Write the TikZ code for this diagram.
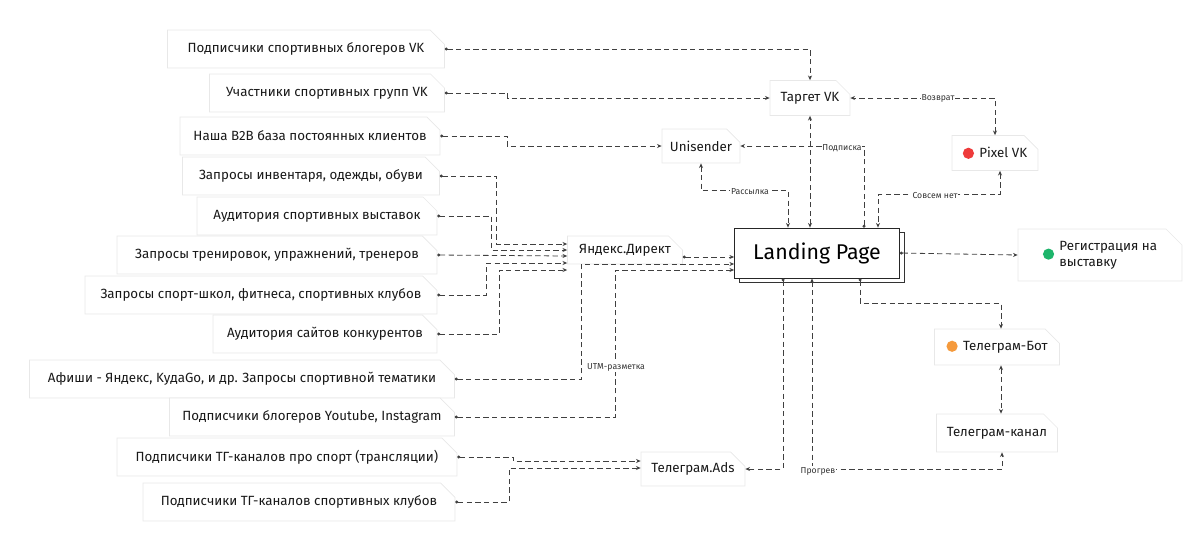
\documentclass[tikz,border=0pt]{standalone}
\usepackage{fontspec}
\setmainfont{Fira Sans}
\usetikzlibrary{shapes.misc,arrows.meta,calc}
\definecolor{cred}{HTML}{EE3B3B}
\definecolor{cgreen}{HTML}{1DB56B}
\definecolor{corange}{HTML}{F59A3C}
\newcommand{\mydot}[1]{\tikz[baseline=-0.6ex]\fill[#1] (0,0) circle (4.2pt);\hspace{4pt}}
\begin{document}
\begin{tikzpicture}[x=0.75pt,y=-0.75pt,
  nt/.style={chamfered rectangle, chamfered rectangle corners=north east,
    chamfered rectangle xsep=6pt, chamfered rectangle ysep=6pt, draw=black!9, fill=white, line width=0.5pt,
    inner sep=0pt, font=\fontsize{10}{12}\selectfont, text=black!90},
  con/.style={draw=black!75, line width=0.6pt, dash pattern=on 4pt off 2.5pt,
    {Circle[length=2.2pt]}-{Stealth[length=3.5pt,width=3pt]}},
  bi/.style={con, {Stealth[length=3.5pt,width=3pt]}-{Stealth[length=3.5pt,width=3pt]}},
  lbl/.style={fill=white, inner sep=0.5pt, font=\fontsize{6.5}{8}\selectfont, text=black!80}]
\useasboundingbox (0,0) rectangle (1200,558);
% left nodes
\node[nt, minimum width=277*0.75pt, minimum height=38*0.75pt] (L1) at (306,49) {Подписчики спортивных блогеров VK};
\node[nt, minimum width=235*0.75pt, minimum height=38*0.75pt] (L2) at (327,93) {Участники спортивных групп VK};
\node[nt, minimum width=260*0.75pt, minimum height=38*0.75pt] (L3) at (310,136) {Наша B2B база постоянных клиентов};
\node[nt, minimum width=257*0.75pt, minimum height=38*0.75pt] (L4) at (311,176) {Запросы инвентаря, одежды, обуви};
\node[nt, minimum width=240*0.75pt, minimum height=38*0.75pt] (L5) at (317,216) {Аудитория спортивных выставок};
\node[nt, minimum width=320*0.75pt, minimum height=38*0.75pt] (L6) at (277,255) {Запросы тренировок, упражнений, тренеров};
\node[nt, minimum width=352*0.75pt, minimum height=38*0.75pt] (L7) at (261,295) {Запросы спорт-школ, фитнеса, спортивных клубов};
\node[nt, minimum width=224*0.75pt, minimum height=38*0.75pt] (L8) at (325,334) {Аудитория сайтов конкурентов};
\node[nt, minimum width=425*0.75pt, minimum height=38*0.75pt] (L9) at (242,379) {Афиши - Яндекс, KудаGo, и др. Запросы спортивной тематики};
\node[nt, minimum width=285*0.75pt, minimum height=38*0.75pt] (L10) at (312,417) {Подписчики блогеров Youtube, Instagram};
\node[nt, minimum width=340*0.75pt, minimum height=38*0.75pt] (L11) at (287,457) {Подписчики ТГ-каналов про спорт (трансляции)};
\node[nt, minimum width=312*0.75pt, minimum height=38*0.75pt] (L12) at (299,502) {Подписчики ТГ-каналов спортивных клубов};
% middle
\node[nt, minimum width=80*0.75pt, minimum height=35*0.75pt] (Tg) at (810,98) {Таргет VK};
\node[nt, minimum width=78*0.75pt, minimum height=34*0.75pt] (Un) at (701,146) {Unisender};
\node[nt, minimum width=115*0.75pt, minimum height=28*0.75pt] (Yd) at (625,250) {Яндекс.Директ};
\node[nt, minimum width=104*0.75pt, minimum height=34*0.75pt] (Ad) at (693,469) {Телеграм.Ads};
\draw[black!80, line width=0.6pt, fill=white] (739,232) rectangle (904,282);
\node[draw=black!85, line width=0.6pt, fill=white, minimum width=165*0.75pt, minimum height=50*0.75pt,
  font=\fontsize{16}{18}\selectfont] (Lp) at (817,253) {Landing Page};
% right
\node[nt, minimum width=86*0.75pt, minimum height=35*0.75pt] (Px) at (995,153) {\mydot{cred}Pixel VK};
\node[nt, minimum width=164*0.75pt, minimum height=52*0.75pt, align=left] (Rg) at (1100,255) {\mydot{cgreen}\begin{tabular}{@{}l@{}}Регистрация на\\выставку\end{tabular}};
\node[nt, minimum width=125*0.75pt, minimum height=36*0.75pt] (Bt) at (997,347) {\mydot{corange}Телеграм-Бот};
\node[nt, minimum width=121*0.75pt, minimum height=38*0.75pt] (Kn) at (997,433) {Телеграм-канал};
% connectors
\draw[con] (L1.east) -| (Tg.north);
\draw[con] (L2.east) -- ++(63,0) |- (Tg.west);
\draw[con] (L3.east) -- ++(67,0) |- (Un.west);
\draw[con] (L4.east) -- ++(57,0) |- ($(Yd.west)+(0,-6)$);
\draw[con] (L5.east) -- ++(54,0) |- ($(Yd.west)+(0,0)$);
\draw[con] (L6.east) -- ($(Yd.west)+(0,6)$);
\draw[con] (L7.east) -- ++(49,0) |- ($(Yd.west)+(0,13)$);
\draw[con] (L8.east) -- ++(62,0) |- ($(Yd.west)+(0,20)$);
\draw[con] (L9.east) -- ++(127,0) |- ($(Lp.west)+(0,11)$);
\draw[con] (L10.east) -- ++(161,0) |- ($(Lp.west)+(0,17)$);
\draw[con] ($(Yd.east)+(0,7)$) -- ($(Lp.west)+(0,4)$);
\draw[con] (L11.east) -- ++(56,0) |- ($(Ad.west)+(0,-8)$);
\draw[con] (L12.east) -- ++(54,0) |- ($(Ad.west)+(0,-1)$);
\draw[con] ($(Lp.south)+(-34,0)$) |- (Ad.east);
\draw[bi] ($(Lp.north)+(-7,0)$) -- (Tg.south);
\draw[con] ($(Lp.north)+(47,0)$) |- (Un.east);
\draw[bi] (Un.south) -- ++(0,27) -| ($(Lp.north)+(-29,0)$);
\draw[bi] (Px.north) |- (Tg.east);
\draw[bi] ($(Px.south)+(5,0)$) -- ++(0,24) -| ($(Lp.north)+(61,0)$);
\draw[con] (Lp.east) -- (Rg.west);
\draw[con] ($(Lp.south)+(43,0)$) -- ++(0,25) -| ($(Bt.north)+(4,0)$);
\draw[bi] ($(Bt.south)+(4,0)$) -- ($(Kn.north)+(4,0)$);
\draw[bi] ($(Lp.south)+(-5,0)$) |- ($(Kn.south)+(5,17)$) -- ($(Kn.south)+(5,0)$);
% labels
\node[lbl] (t1) at (842,148) {Подписка};
\node[lbl] (t2) at (750,192) {Рассылка};
\node[lbl] (t3) at (938,98) {Возврат};
\node[lbl] (t4) at (935,196) {Совсем нет};
\node[lbl] (t5) at (616,367) {UTM-разметка};
\node[lbl] (t6) at (818,471) {Прогрев};
\end{tikzpicture}
\end{document}
